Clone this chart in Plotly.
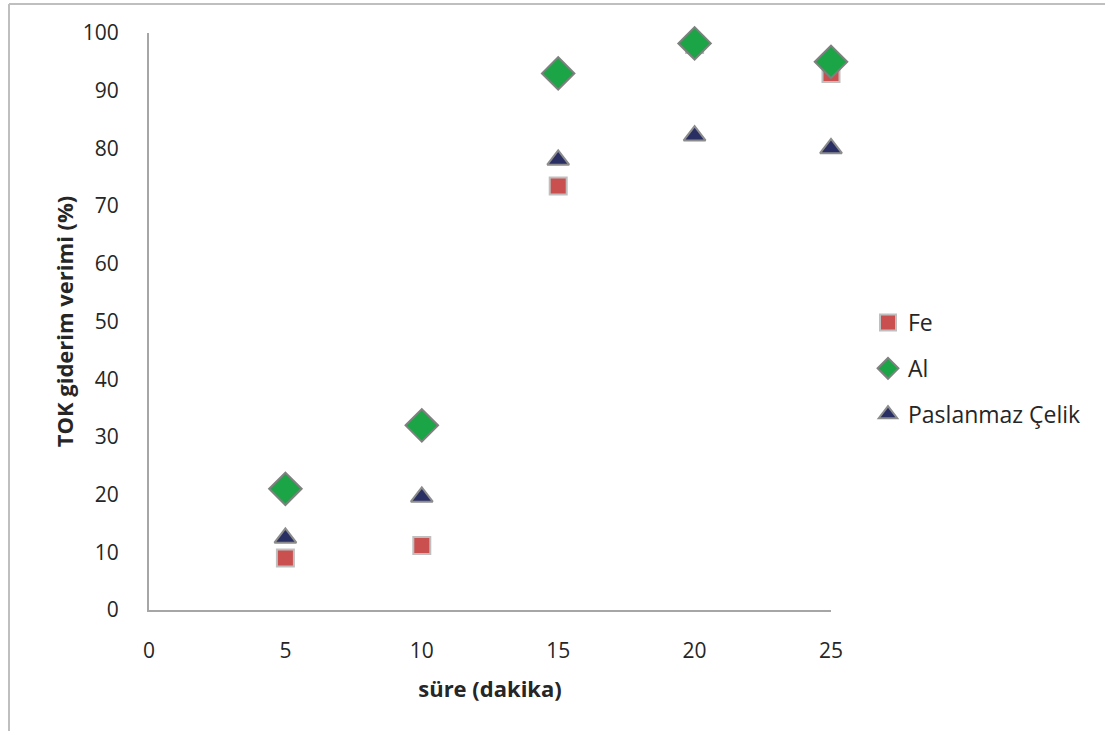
import plotly.graph_objects as go

# Treatment time (minutes)
sure = [5, 10, 15, 20, 25]

# TOC removal efficiency (%) per electrode material
fe = [9, 11.2, 73.5, 98, 93]
al = [21, 32, 93, 98.2, 95]
paslanmaz = [12.5, 19.6, 78, 82.2, 80]

x_ticks = [0, 5, 10, 15, 20, 25]
y_ticks = [0, 10, 20, 30, 40, 50, 60, 70, 80, 90, 100]

FONT = "Open Sans"
TEXT = "#262626"
AXIS = "#A6A6A6"

fig = go.Figure()

fig.add_trace(go.Scatter(
    x=sure, y=fe, mode="markers", name="Fe", legendgroup="fe",
    marker=dict(symbol="square", size=17, color="#C9504F",
                line=dict(color="#BFBFBF", width=2)),
    cliponaxis=False,
))
fig.add_trace(go.Scatter(
    x=sure, y=al, mode="markers", name="Al", legendgroup="al",
    marker=dict(symbol="diamond", size=25, color="#1BA546",
                line=dict(color="#808080", width=2)),
    cliponaxis=False,
))
fig.add_trace(go.Scatter(
    x=sure, y=paslanmaz, mode="markers", name="Paslanmaz Çelik", legendgroup="pc",
    marker=dict(symbol="triangle-up", size=19, color="#2A2F63",
                line=dict(color="#8C8C8C", width=2)),
    cliponaxis=False,
))

# Outer frame: top and left edges
L, R, B, T = 149, 831, 610, 33
def px(xp):
    return (xp - L) / (R - L)
def py(yp):
    return (B - yp) / (B - T)

fig.add_shape(type="line", xref="paper", yref="paper",
              x0=px(9), x1=px(1105), y0=py(4), y1=py(4),
              line=dict(color="#BFBFBF", width=2))
fig.add_shape(type="line", xref="paper", yref="paper",
              x0=px(9), x1=px(9), y0=py(4), y1=py(731),
              line=dict(color="#BFBFBF", width=2))

fig.update_layout(
    width=1105, height=731,
    margin=dict(l=L, r=1105 - R, t=T, b=731 - B),
    paper_bgcolor="white", plot_bgcolor="white",
    font=dict(family=FONT, size=21, color=TEXT),
    showlegend=True,
    legend=dict(x=px(868), y=py(301), xanchor="left", yanchor="top",
                font=dict(family=FONT, size=23, color=TEXT),
                tracegroupgap=13, bgcolor="rgba(0,0,0,0)"),
    xaxis=dict(
        range=[0, 25], tickvals=x_ticks, ticktext=[str(v) for v in x_ticks],
        showgrid=False, zeroline=False, showline=True, linecolor=AXIS, linewidth=2,
        ticks="", ticklabelstandoff=21,
        tickfont=dict(family=FONT, size=21, color=TEXT),
        title=dict(text="<b>süre (dakika)</b>", font=dict(family=FONT, size=22, color=TEXT),
                   standoff=18),
    ),
    yaxis=dict(
        range=[0, 100], tickvals=y_ticks, ticktext=[str(v) for v in y_ticks],
        showgrid=False, zeroline=False, showline=True, linecolor=AXIS, linewidth=2,
        ticks="", ticklabelstandoff=24,
        tickfont=dict(family=FONT, size=21, color=TEXT),
        title=dict(text="<b>TOK giderim verimi (%)</b>", font=dict(family=FONT, size=22, color=TEXT),
                   standoff=3),
    ),
)

fig.write_html("out.html")
